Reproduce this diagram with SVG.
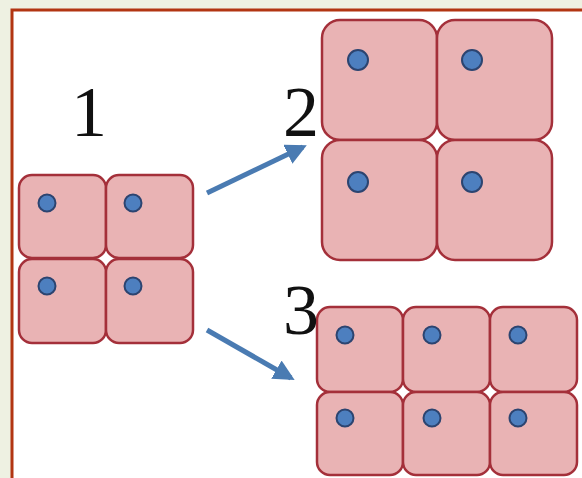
<svg xmlns="http://www.w3.org/2000/svg" width="582" height="478" viewBox="0 0 582 478">
  <defs>
    <style>
      .cell { fill: #e9b3b4; stroke: #a4303a; stroke-width: 2.5; }
      .dot { fill: #4d7fbf; stroke: #2c4470; stroke-width: 2; }
      .num { font-family: "Liberation Serif", "Times New Roman", serif; font-size: 72px; fill: #111; text-anchor: middle; }
      .link { stroke: #4a7bb2; stroke-width: 5; stroke-linecap: butt; fill: none; }
    </style>
    <marker id="head" viewBox="0 0 10 10" refX="8" refY="5" markerWidth="4.2" markerHeight="4.2" markerUnits="strokeWidth" orient="auto">
      <path d="M0,0 L10,5 L0,10 Z" fill="#4a7bb2"/>
    </marker>
  </defs>

  <!-- page background and frame -->
  <rect x="0" y="0" width="582" height="478" fill="#eef1e2"/>
  <rect x="12" y="10" width="572" height="470" fill="#ffffff" stroke="#b23512" stroke-width="3"/>

  <!-- stage 1: four small cells -->
  <g id="stage1">
    <rect class="cell" x="19" y="175" width="87" height="83" rx="13"/>
    <rect class="cell" x="106" y="175" width="87" height="83" rx="13"/>
    <rect class="cell" x="19" y="259" width="87" height="84" rx="13"/>
    <rect class="cell" x="106" y="259" width="87" height="84" rx="13"/>
    <circle class="dot" cx="47" cy="203" r="8.5"/>
    <circle class="dot" cx="133" cy="203" r="8.5"/>
    <circle class="dot" cx="47" cy="286" r="8.5"/>
    <circle class="dot" cx="133" cy="286" r="8.5"/>
    <text class="num" x="89" y="136">1</text>
  </g>

  <!-- stage 2: cells grown larger -->
  <g id="stage2">
    <rect class="cell" x="322" y="20" width="115" height="120" rx="18"/>
    <rect class="cell" x="437" y="20" width="115" height="120" rx="18"/>
    <rect class="cell" x="322" y="140" width="115" height="120" rx="18"/>
    <rect class="cell" x="437" y="140" width="115" height="120" rx="18"/>
    <circle class="dot" cx="358" cy="60" r="10"/>
    <circle class="dot" cx="472" cy="60" r="10"/>
    <circle class="dot" cx="358" cy="182" r="10"/>
    <circle class="dot" cx="472" cy="182" r="10"/>
    <text class="num" x="301" y="136">2</text>
  </g>

  <!-- stage 3: more cells of the same size -->
  <g id="stage3">
    <rect class="cell" x="317" y="307" width="86" height="85" rx="13"/>
    <rect class="cell" x="403" y="307" width="87" height="85" rx="13"/>
    <rect class="cell" x="490" y="307" width="87" height="85" rx="13"/>
    <rect class="cell" x="317" y="392" width="86" height="83" rx="13"/>
    <rect class="cell" x="403" y="392" width="87" height="83" rx="13"/>
    <rect class="cell" x="490" y="392" width="87" height="83" rx="13"/>
    <circle class="dot" cx="345" cy="335" r="8.5"/>
    <circle class="dot" cx="432" cy="335" r="8.5"/>
    <circle class="dot" cx="518" cy="335" r="8.5"/>
    <circle class="dot" cx="345" cy="418" r="8.5"/>
    <circle class="dot" cx="432" cy="418" r="8.5"/>
    <circle class="dot" cx="518" cy="418" r="8.5"/>
    <text class="num" x="301" y="334">3</text>
  </g>

  <!-- connectors -->
  <g id="connectors">
    <line class="link" x1="207" y1="193" x2="303" y2="147" marker-end="url(#head)"/>
    <line class="link" x1="207" y1="330" x2="291" y2="378" marker-end="url(#head)"/>
  </g>
</svg>
